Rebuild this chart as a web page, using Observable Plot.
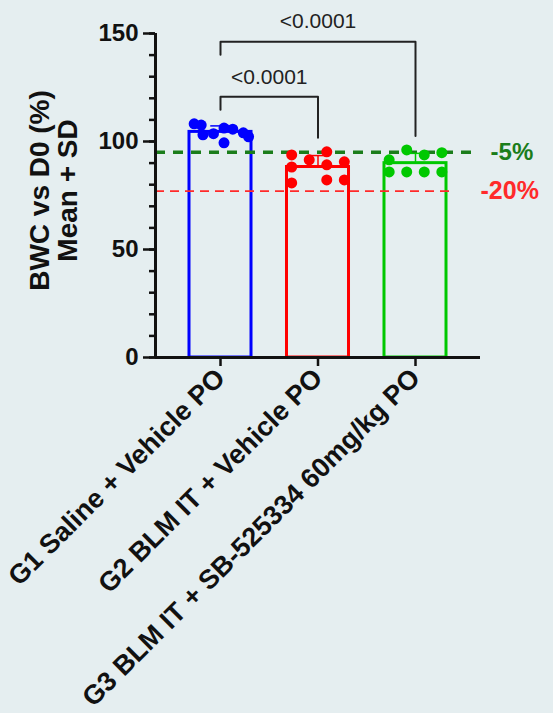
<!DOCTYPE html>
<html><head><meta charset="utf-8">
<script src="https://cdn.jsdelivr.net/npm/d3@7"></script>
<script src="https://cdn.jsdelivr.net/npm/@observablehq/plot@0.6"></script>
<style>
html,body{margin:0;padding:0;background:#e5eef0;}
#chart{width:553px;height:713px;}
</style></head><body><div id="chart"></div>
<script>
// ---- data ----
const groups = ["G1 Saline + Vehicle PO", "G2 BLM IT + Vehicle PO", "G3 BLM IT + SB-525334 60mg/kg PO"];
const groupColors = ["#0000ff", "#ff0000", "#00c800"];
const g1Values = [108.2, 107.6, 103.1, 103.6, 106.2, 99.4, 105.7, 104.0, 102.2];
const g1Slots  = [0, 0.4, 0.5, 1.1, 1.7, 1.7, 2.2, 2.8, 3.1];
const g2Values = [93.8, 88.2, 80.8, 91.5, 95.2, 89.2, 82.2, 90.6, 82.2];
const g2Slots  = [0, 0, 0, 1, 2, 2, 2, 3, 3];
const g3Values = [91.5, 85.9, 96.1, 85.9, 93.8, 85.9, 94.8, 85.9];
const g3Slots  = [0, 0, 1, 1, 2, 2, 3, 3];
const yTicks = [0, 50, 100, 150];
const yMinorTicks = [0, 10, 20, 30, 40, 50, 60, 70, 80, 90, 100, 110, 120, 130, 140, 150];
const thresholdValues = [95, 77];
const thresholdLabels = ["-5%", "-20%"];
const comparisons = [
  {from: 1, to: 2, label: "<0.0001"},
  {from: 1, to: 3, label: "<0.0001"}
];
const yTitle = "BWC vs D0 (%)\nMean + SD";

// ---- derived tables ----
const allValues = [g1Values, g2Values, g3Values];
const allSlots = [g1Slots, g2Slots, g3Slots];
const points = [];
allValues.forEach((vals, gi) => vals.forEach((v, j) => points.push({
  g: gi + 1, v, pos: gi + 1 + (allSlots[gi][j] - 1.5) * 0.18, color: groupColors[gi]
})));
const summary = groups.map((name, gi) => {
  const vals = allValues[gi];
  return {g: gi + 1, name, mean: d3.mean(vals), sd: d3.deviation(vals), color: groupColors[gi]};
});
const groupMax = g => d3.max(allValues[g - 1]);
const brackets = [];
comparisons.forEach((c, i) => {
  const top = i === 0 ? groupMax(c.from) + 12.5 : brackets[i - 1].top + 25.5;
  brackets.push({...c, id: i, top,
    left: i === 0 ? groupMax(c.from) + 6.5 : top - 6,
    right: groupMax(c.to) + 6.5});
});
const bracketPts = brackets.flatMap(b => [
  {id: b.id, x: b.from, y: b.left}, {id: b.id, x: b.from, y: b.top},
  {id: b.id, x: b.to, y: b.top}, {id: b.id, x: b.to, y: b.right}
]);

const X0 = 1/3, X1 = 11/3, HALF = 0.318;
const font = "'Liberation Sans', Arial, Helvetica, sans-serif";

const plot = Plot.plot({
  width: 553, height: 713,
  marginLeft: 155, marginRight: 73, marginTop: 33, marginBottom: 356,
  style: {background: "transparent", fontFamily: font, color: "#111"},
  x: {type: "linear", domain: [X0, X1]},
  y: {domain: [0, 150]},
  color: {type: "identity"},
  marks: [
    // bars (mean)
    Plot.rectY(summary, {x1: d => d.g - HALF, x2: d => d.g + HALF, y1: 0, y2: "mean",
      fill: "none", stroke: "color", strokeWidth: 3}),
    // threshold lines
    Plot.ruleY([thresholdValues[0]], {x1: X0, x2: 3.585, stroke: "#1b7d1b", strokeWidth: 3.5, strokeDasharray: "10,8"}),
    Plot.ruleY([thresholdValues[1]], {x1: X0, x2: 3.39, stroke: "#ff2a2a", strokeWidth: 1.8, strokeDasharray: "9,6"}),
    // error bars (mean + SD)
    Plot.ruleX(summary, {x: "g", y1: "mean", y2: d => d.mean + d.sd, stroke: "color", strokeWidth: 1.5}),
    Plot.ruleY(summary, {y: d => d.mean + d.sd, x1: d => d.g - 0.1, x2: d => d.g + 0.1, stroke: "color", strokeWidth: 1.5}),
    // points
    Plot.dot(points, {x: "pos", y: "v", r: 5.5, fill: "color", stroke: "none"}),
    // axes
    Plot.axisY({ticks: yMinorTicks, tickSize: 6, tickFormat: () => "", label: null, strokeWidth: 2.5}),
    Plot.axisY({ticks: yTicks, tickSize: 12, tickPadding: 5, fontSize: 24, fontWeight: "bold", label: null, strokeWidth: 2.5}),
    Plot.ruleX([X0], {y1: 0, y2: 150, strokeWidth: 3}),
    Plot.ruleY([0], {x1: X0, x2: X1, strokeWidth: 3}),
    Plot.axisX({ticks: [1, 2, 3], tickFormat: d => groups[d - 1], tickRotate: -45, tickSize: 9, tickPadding: 7,
      fontSize: 27, fontWeight: "bold", label: null, strokeWidth: 2.5}),
    // threshold labels
    Plot.text([thresholdLabels[0]], {x: 3.77, y: thresholdValues[0], text: d => d, textAnchor: "start",
      fill: "#1b7d1b", fontSize: 24, fontWeight: "bold"}),
    Plot.text([thresholdLabels[1]], {x: X1, y: thresholdValues[1], text: d => d, textAnchor: "start",
      fill: "#ff2a2a", fontSize: 25, fontWeight: "bold"}),
    // significance brackets
    Plot.line(bracketPts, {x: "x", y: "y", z: "id", stroke: "#222", strokeWidth: 2}),
    Plot.text(brackets, {x: d => (d.from + d.to) / 2, y: "top", dy: -20, text: "label", fontSize: 21, fill: "#222"}),
    // y title
    Plot.text([yTitle], {frameAnchor: "left", textAnchor: "middle", dx: -101, dy: -5, rotate: -90, text: d => d,
      fontSize: 28, fontWeight: "bold", lineHeight: 1.0, fill: "#111"})
  ]
});
document.getElementById("chart").appendChild(plot);
</script>
</body></html>
